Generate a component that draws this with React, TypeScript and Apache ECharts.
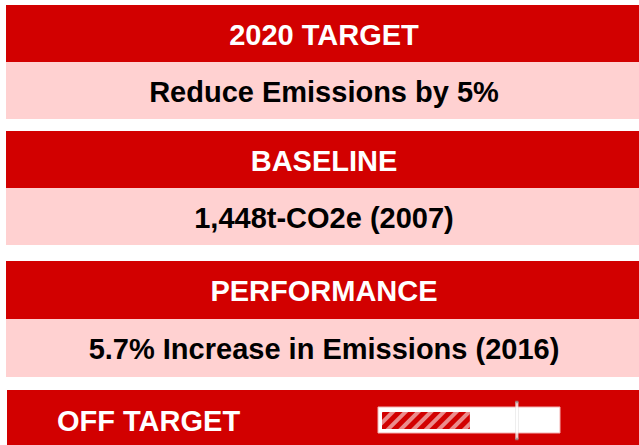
import React, { useEffect, useRef } from "react";
import * as echarts from "echarts";

const headers = ["2020 TARGET", "BASELINE", "PERFORMANCE"];
const details = [
  "Reduce Emissions by 5%",
  "1,448t-CO2e (2007)",
  "5.7% Increase in Emissions (2016)",
];
const statusLabel = "OFF TARGET";
const progressCategory = ["Progress"];
const progressValues = [50.5];
const markerValues = [77.5];
const scaleMax = 100;

const RED = "#D20000";
const PINK = "#FFD1D1";
const FONT = 'bold 29px "Liberation Sans", Arial, sans-serif';

export default function App() {
  const ref = useRef<HTMLDivElement>(null);
  useEffect(() => {
    if (!ref.current) return;
    const chart = echarts.init(ref.current, null, { renderer: "svg" });
    const tops = [5, 131, 261];
    const hRed = [57, 57, 58];
    const hPink = [57, 57, 58];
    const left = 6;
    const width = 639 - left;
    const cx = 324;
    const elements: any[] = [];
    tops.forEach((t, i) => {
      elements.push({
        type: "rect",
        z: 0,
        shape: { x: left, y: t, width, height: hRed[i] },
        style: { fill: RED },
      });
      elements.push({
        type: "rect",
        z: 0,
        shape: { x: left, y: t + hRed[i], width, height: hPink[i] },
        style: { fill: PINK },
      });
      elements.push({
        type: "text",
        z: 1,
        x: cx,
        y: t + hRed[i] / 2 + 1,
        style: {
          text: headers[i],
          fill: "#fff",
          font: FONT,
          align: "center",
          verticalAlign: "middle",
          textAlign: "center",
          textVerticalAlign: "middle",
        },
      });
      elements.push({
        type: "text",
        z: 1,
        x: cx,
        y: t + hRed[i] + hPink[i] / 2 + 1,
        style: {
          text: details[i],
          fill: "#000",
          font: FONT,
          align: "center",
          verticalAlign: "middle",
          textAlign: "center",
          textVerticalAlign: "middle",
        },
      });
    });
    elements.push({
      type: "rect",
      z: 0,
      shape: { x: left + 1, y: 390, width: width - 1, height: 55 },
      style: { fill: RED },
    });
    elements.push({
      type: "text",
      z: 1,
      x: 57,
      y: 421,
      style: {
        text: statusLabel,
        fill: "#fff",
        font: FONT,
        align: "left",
        verticalAlign: "middle",
        textAlign: "left",
        textVerticalAlign: "middle",
      },
    });
    elements.push({
      type: "rect",
      z: 1,
      shape: { x: 378, y: 407, width: 182, height: 26 },
      style: { fill: "#fff", stroke: "#f3b0b0", lineWidth: 1 },
    });

    chart.setOption({
      animation: false,
      graphic: { elements },
      grid: { left: 382, width: 174, top: 412, height: 17 },
      xAxis: { type: "value", min: 0, max: scaleMax, show: false },
      yAxis: { type: "category", data: progressCategory, show: false },
      series: [
        {
          type: "bar",
          data: progressValues,
          barWidth: 17,
          z: 3,
          itemStyle: {
            color: RED,
            decal: {
              symbol: "rect",
              symbolSize: 1,
              color: "rgba(255,255,255,0.55)",
              dashArrayX: [1, 0],
              dashArrayY: [4, 5],
              rotation: -Math.PI / 4,
            },
          },
        },
        {
          type: "scatter",
          data: markerValues.map((v, i) => [v, progressCategory[i]]),
          symbol: "rect",
          symbolSize: [3, 37],
          z: 5,
          itemStyle: { color: "#fff", borderColor: "#999", borderWidth: 0.7 },
        },
      ],
    });
    return () => chart.dispose();
  }, []);
  return (
    <div
      ref={ref}
      style={{ position: "fixed", left: 0, top: 0, width: 639, height: 445, background: "#fff" }}
    />
  );
}
